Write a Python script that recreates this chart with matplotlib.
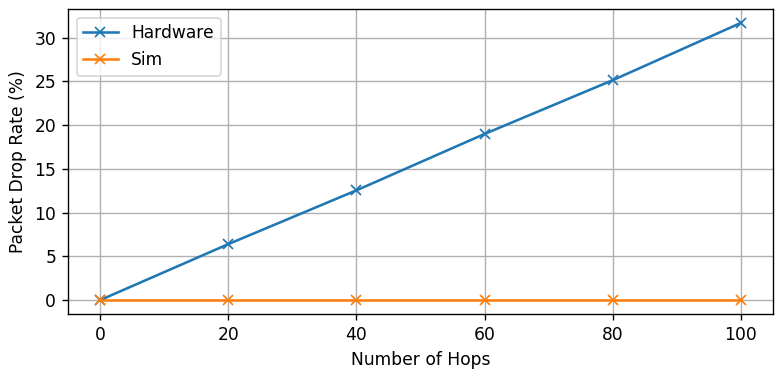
import matplotlib
matplotlib.use("Agg")
import matplotlib.pyplot as plt

hops = [0, 20, 40, 60, 80, 100]
hardware = [0.0, 6.4, 12.55, 19.0, 25.15, 31.7]
sim = [0, 0, 0, 0, 0, 0]

# reference looks like a default mpl figure scaled up ~1.23x
dpi = 123
fig, ax = plt.subplots(figsize=(775 / dpi, 369 / dpi), dpi=dpi)
fig.subplots_adjust(left=68 / 775, right=773 / 775, top=1 - 9 / 369, bottom=1 - 314 / 369)

ax.plot(hops, hardware, marker="x", label="Hardware")
ax.plot(hops, sim, marker="x", label="Sim")

ax.set_xlabel("Number of Hops")
ax.set_ylabel("Packet Drop Rate (%)")
ax.set_xticks(hops)
ax.grid(True)
ax.legend(loc="upper left")

fig.savefig("out.png", dpi=dpi)
